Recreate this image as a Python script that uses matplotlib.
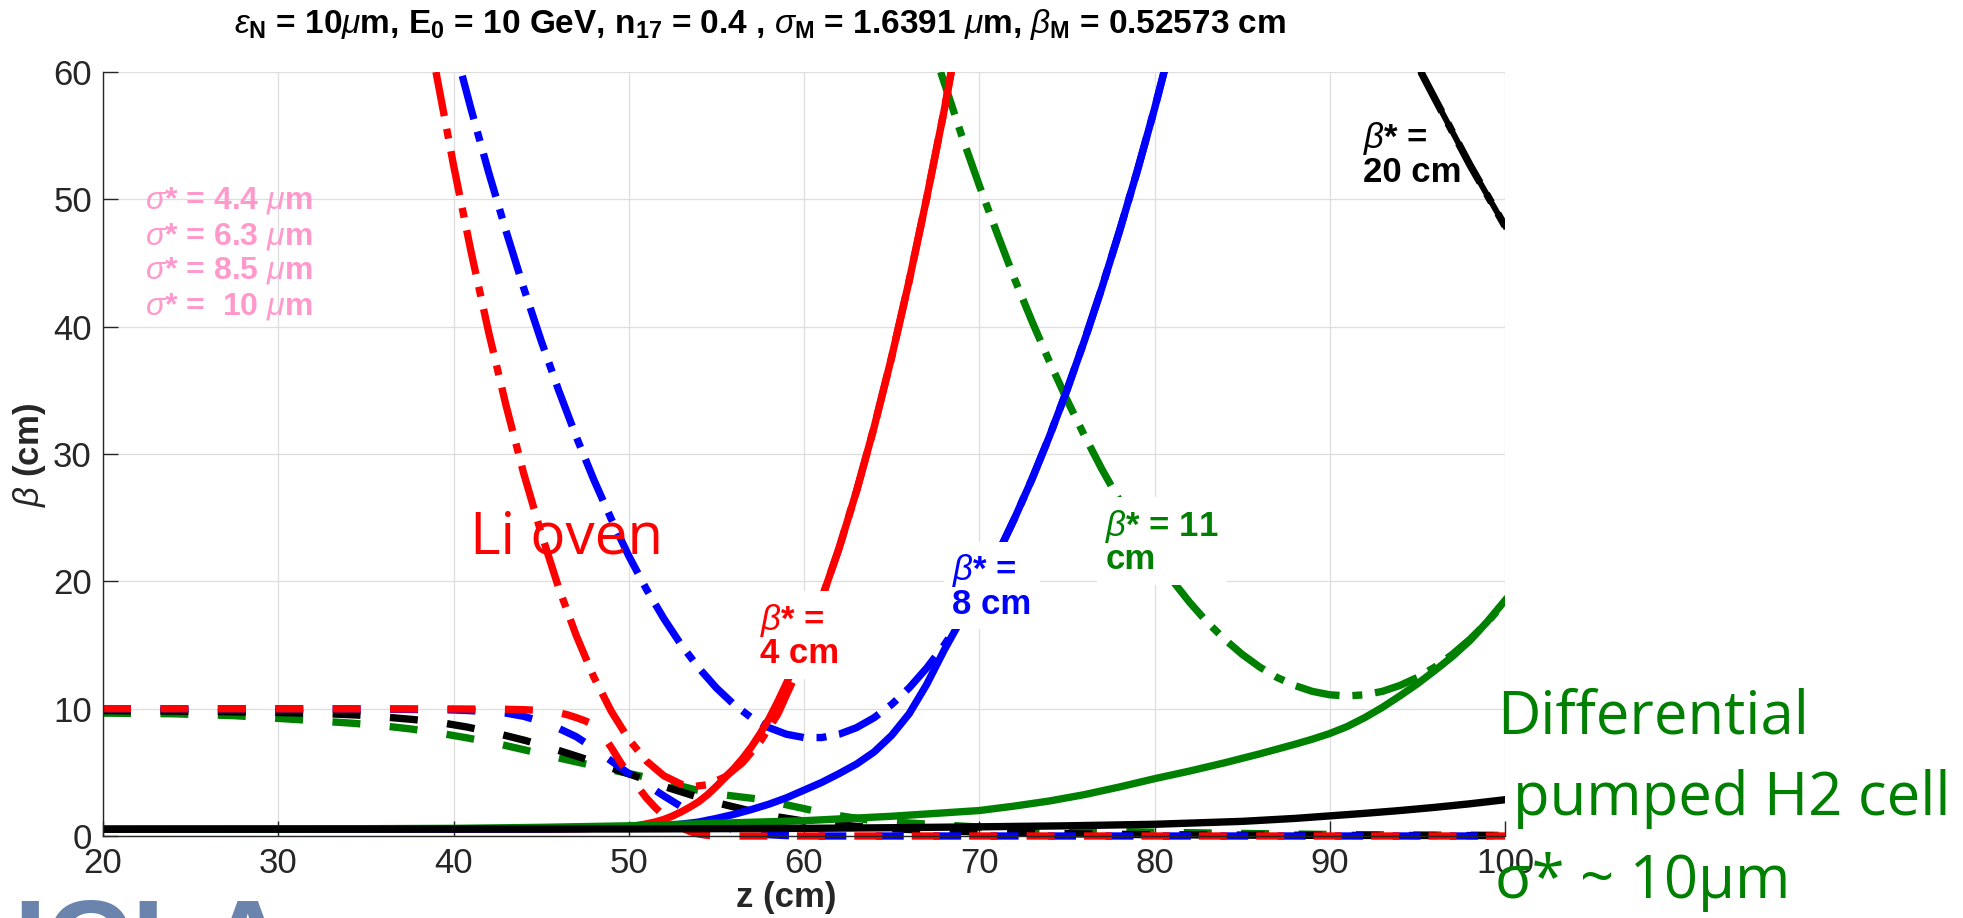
import numpy as np
import matplotlib
matplotlib.use("Agg")
import matplotlib.pyplot as plt

plt.rcParams['font.family'] = ['Liberation Sans', 'DejaVu Sans']
plt.rcParams['mathtext.fontset'] = 'custom'
plt.rcParams['mathtext.rm'] = 'Liberation Sans'
plt.rcParams['mathtext.it'] = 'Liberation Sans:italic'
plt.rcParams['mathtext.bf'] = 'Liberation Sans:bold'

# ---- data (z in cm, beta in cm) ----
# plasma (solid)
red_solid_z = [20, 44, 46, 47, 48, 49, 50, 50.5, 51, 51.5, 52, 52.5, 53, 53.5, 54, 54.5, 55, 55.5,
               56, 56.5, 57, 57.5, 58, 58.5, 59, 60, 61, 62, 63, 64, 65, 66, 67, 68, 68.4]
red_solid_b = [0.53, 0.54, 0.55, 0.57, 0.6, 0.66, 0.75, 0.83, 0.95, 1.1, 1.3, 1.57, 1.9, 2.28, 2.7,
               3.25, 3.9, 4.6, 5.3, 6.1, 7.0, 8.05, 9.2, 10.55, 12.0, 15.0, 18.6, 22.6, 27.1, 32.1,
               37.6, 43.6, 50.1, 57.0, 60.0]
blue_solid_z = [20, 45, 48, 50, 51, 52, 53, 54, 55, 56, 57, 58, 59, 60, 61, 62, 63, 64, 65, 66, 67,
                68, 69, 70, 71, 72, 73, 74, 75, 76, 77, 78, 79, 80, 80.6]
blue_solid_b = [0.53, 0.55, 0.6, 0.65, 0.72, 0.8, 0.93, 1.1, 1.38, 1.7, 2.08, 2.5, 3.0, 3.6, 4.2,
                4.9, 5.65, 6.6, 7.9, 9.6, 11.9, 14.6, 17.08, 19.4, 22.0, 24.9, 28.0, 31.37, 35.0,
                38.9, 43.06, 47.5, 52.15, 57.1, 60.3]
green_solid_z = [20, 30, 40, 45, 50, 55, 60, 65, 70, 72, 74, 76, 78, 80, 82, 84, 86, 88, 89, 90, 91,
                 92, 93, 94, 95, 96, 97, 98, 99, 100]
green_solid_b = [0.53, 0.55, 0.6, 0.68, 0.8, 1.0, 1.2, 1.55, 2.0, 2.35, 2.75, 3.25, 3.85, 4.5, 5.1,
                 5.75, 6.45, 7.2, 7.6, 8.05, 8.6, 9.3, 10.1, 11.0, 11.95, 13.0, 14.1, 15.35, 16.85, 18.5]
black_solid_z = [20, 50, 60, 65, 70, 75, 80, 85, 88, 90, 92, 94, 96, 98, 100]
black_solid_b = [0.53, 0.55, 0.6, 0.65, 0.72, 0.8, 0.92, 1.15, 1.38, 1.58, 1.78, 2.0, 2.25, 2.53, 2.85]

# vacuum (dash-dot)
red_dd_z = [39, 40, 41, 42, 43, 44, 45, 46, 47, 48, 49, 50, 51, 52, 53, 53.8, 54.5, 55.5, 56.5,
            57.5, 58.5, 59.5, 60, 60.5, 61, 62, 63, 64, 65, 66, 67, 68, 68.4]
red_dd_b = [60, 52.7, 45.9, 39.6, 33.8, 28.5, 23.8, 19.5, 15.76, 12.5, 9.8, 7.6, 5.9, 4.73, 4.06,
            3.9, 4.03, 4.64, 5.77, 7.41, 9.56, 12.6, 14.6, 16.7, 18.6, 22.6, 27.1, 32.1, 37.6, 43.6,
            50.1, 57.0, 60.0]
blue_dd_z = [40.5, 41, 42, 43, 44, 45, 46, 47, 48, 49, 50, 51, 52, 53, 54, 55, 56, 57, 58, 59, 60,
             61, 62, 63, 64, 65, 66, 67, 68, 69, 70, 71, 72, 73, 74, 75, 76, 77, 78, 79, 80, 80.6]
blue_dd_b = [59.7, 57.1, 52.15, 47.5, 43.06, 38.9, 35.0, 31.37, 28.0, 24.9, 22.0, 19.4, 17.08, 15.0,
             13.19, 11.63, 10.33, 9.29, 8.51, 7.99, 7.73, 7.73, 7.99, 8.51, 9.29, 10.33, 11.63,
             13.19, 15.0, 17.08, 19.4, 22.0, 24.9, 28.0, 31.37, 35.0, 38.9, 43.06, 47.5, 52.15,
             57.1, 60.3]
green_dd_z = [67.8, 69, 70, 71, 72, 73, 74, 75, 76, 77, 78, 79, 80, 81, 82, 83, 84, 85, 86, 87, 88,
              89, 90, 91, 92, 93, 94, 95, 96, 97, 98, 99, 100]
green_dd_b = [60, 55, 51.1, 47.4, 43.8, 40.45, 37.27, 34.27, 31.45, 28.8, 26.36, 24.1, 22.0, 20.1,
              18.36, 16.8, 15.45, 14.27, 13.27, 12.45, 11.82, 11.36, 11.09, 11.0, 11.09, 11.36,
              11.82, 12.45, 13.27, 14.27, 15.45, 16.8, 18.36]
black_dd_z = [95.2, 96, 97, 98, 99, 100]
black_dd_b = [60, 57.9, 55.3, 52.7, 50.3, 47.9]

# dashed, starting at 10
red_dash_z = [20, 40, 43, 44, 45, 45.5, 46, 46.5, 47, 47.5, 48, 48.5, 49, 49.5, 50, 50.5, 51, 51.5,
              52, 52.5, 53, 53.5, 54, 54.5, 55, 56, 100]
red_dash_b = [10, 9.98, 9.95, 9.92, 9.85, 9.78, 9.68, 9.52, 9.3, 9.05, 8.75, 8.0, 6.95, 5.85, 4.8,
              3.9, 3.0, 2.25, 1.6, 1.05, 0.65, 0.35, 0.15, 0.05, 0.01, 0, 0]
blue_dash_z = [20, 35, 40, 42, 43, 44, 45, 46, 47, 48, 49, 50, 51, 52, 53, 53.5, 54, 55, 56, 57, 58,
               59, 60, 61, 100]
blue_dash_b = [10, 9.98, 9.9, 9.78, 9.65, 9.4, 9.0, 8.45, 7.8, 6.9, 5.9, 4.9, 4.05, 3.15, 2.3, 1.9,
               1.5, 0.9, 0.5, 0.25, 0.1, 0.03, 0.01, 0, 0]
black_dash_z = [20, 25, 30, 32.5, 34.5, 36, 37.7, 39.3, 40.8, 42.5, 44.1, 45.7, 47.3, 49, 50.7, 52,
                53.5, 55.2, 57, 58.5, 60.1, 61.8, 63.5, 65, 67, 69.5, 72, 76, 80, 85, 90, 95, 100]
black_dash_b = [9.85, 9.8, 9.7, 9.62, 9.5, 9.35, 9.15, 8.9, 8.55, 8.05, 7.5, 6.85, 6.15, 5.35, 4.55,
                3.9, 3.25, 2.55, 1.95, 1.5, 1.15, 0.9, 0.7, 0.57, 0.45, 0.34, 0.25, 0.16, 0.1, 0.07,
                0.05, 0.04, 0.03]
green_dash_z = [20, 24, 27.5, 31, 34.3, 36, 37.6, 39.2, 40.8, 42.5, 44.1, 45.7, 47.4, 49, 50.7, 52.3,
                53.9, 55.6, 57.4, 59, 60.5, 62, 63.7, 65.4, 67.1, 70, 75, 80, 85, 90, 95, 100]
green_dash_b = [9.65, 9.6, 9.45, 9.15, 8.85, 8.65, 8.4, 8.08, 7.7, 7.25, 6.75, 6.22, 5.7, 5.2, 4.7,
                4.15, 3.6, 3.2, 2.9, 2.45, 2.0, 1.6, 1.25, 1.07, 0.93, 0.7, 0.45, 0.3, 0.2, 0.12,
                0.08, 0.05]

sigma_star = ['4.4', '6.3', '8.5', ' 10']
sigma_y = [49.9, 47.1, 44.4, 41.6]
beta_star_labels = [('4 cm', 57.5, 15.7, 'red'), ('8 cm', 68.45, 19.6, 'blue'),
                    ('11', 77.2, 23.1, 'green'), ('20 cm', 91.9, 53.5, 'black')]

RED, BLUE, GREEN, BLACK = '#ff0000', '#0000ff', '#008000', '#000000'
COLORS = {'red': RED, 'blue': BLUE, 'green': GREEN, 'black': BLACK}
LW = 5.3
DASH = (3.8, 4.0)
DASHDOT = (6.1, 1.75, 1.35, 1.75)

fig = plt.figure(figsize=(19.63, 9.18), dpi=100)
ax = fig.add_axes([103 / 1963, 1 - 836 / 918, 1402 / 1963, 764 / 918])

for z, b, c in [(green_dash_z, green_dash_b, GREEN), (black_dash_z, black_dash_b, BLACK),
                (blue_dash_z, blue_dash_b, BLUE), (red_dash_z, red_dash_b, RED)]:
    ax.plot(z, b, color=c, lw=LW, dashes=DASH, clip_on=False, zorder=2)

for z, b, c in [(red_dd_z, red_dd_b, RED), (blue_dd_z, blue_dd_b, BLUE),
                (green_dd_z, green_dd_b, GREEN), (black_dd_z, black_dd_b, BLACK)]:
    ax.plot(z, b, color=c, lw=LW, dashes=DASHDOT, zorder=2.1)
ax.plot(black_dd_z, black_dd_b, color=BLACK, lw=LW * 0.8, zorder=2.1)

for z, b, c in [(red_solid_z, red_solid_b, RED), (blue_solid_z, blue_solid_b, BLUE),
                (green_solid_z, green_solid_b, GREEN), (black_solid_z, black_solid_b, BLACK)]:
    ax.plot(z, b, color=c, lw=LW, zorder=2.2)

ax.set_xlim(20, 100)
ax.set_ylim(0, 60)
ax.set_xticks(range(20, 101, 10))
ax.set_yticks(range(0, 61, 10))
ax.grid(True, color='#dedede', lw=0.9)
ax.set_axisbelow(True)
for s in ['top', 'right']:
    ax.spines[s].set_visible(False)
for s in ['left', 'bottom']:
    ax.spines[s].set_color('#262626')
    ax.spines[s].set_linewidth(1.0)
ax.tick_params(direction='in', length=10.8, width=1.0, color='#262626',
               labelsize=25, labelcolor='#262626', pad=8)

# labels
for txt, yv in zip(sigma_star, sigma_y):
    ax.text(22.4, yv, r'$\sigma$* = ' + txt + r' $\mu$m', color='#ff99cc', fontsize=23,
            va='center', ha='left', zorder=5, fontweight='bold')

for num, zx, by, c in beta_star_labels:
    if c == 'green':
        s = r'$\beta$* = ' + num + '\ncm'
    else:
        s = r'$\beta$* =' + '\n' + num
    box = None if c == 'black' else dict(facecolor='white', edgecolor='none', pad=6)
    ax.text(zx, by, s, color=COLORS[c], fontsize=25, va='center', ha='left',
            linespacing=0.95, bbox=box, zorder=5, fontweight='bold')

fig.text(760 / 1963, 1 - 25 / 918,
         r'$\epsilon_\mathbf{N}$ = 10$\mu$m, E$_\mathbf{0}$ = 10 GeV, n$_\mathbf{17}$ = 0.4 , '
         r'$\sigma_\mathbf{M}$ = 1.6391 $\mu$m, $\beta_\mathbf{M}$ = 0.52573 cm',
         ha='center', va='center', fontsize=24, fontweight='bold')
fig.text(786 / 1963, 1 - 898 / 918, 'z (cm)', ha='center', va='center', fontsize=25,
         fontweight='bold', color='#262626')
fig.text(30 / 1963, 1 - 455 / 918, r'$\beta$ (cm)', ha='center', va='center', fontsize=25,
         fontweight='bold', color='#262626', rotation=90)

fig.text(470 / 1963, 1 - 553 / 918, 'Li oven', color=RED, fontsize=42,
         family='Open Sans', va='baseline', ha='left')
for txt, xp, yp in [('Differential', 1497, 733), ('pumped H2 cell', 1513, 815),
                    ('\u03c3* ~ 10\u00b5m', 1495, 898)]:
    fig.text(xp / 1963, 1 - yp / 918, txt, color=GREEN, fontsize=43,
             family='Open Sans', va='baseline', ha='left')

fig.text(-40 / 1963, 1 - 897 / 918, 'UCLA', color='#6b84ad', fontsize=86,
         fontweight='bold', va='top', ha='left')

fig.savefig('out.png', dpi=100)
